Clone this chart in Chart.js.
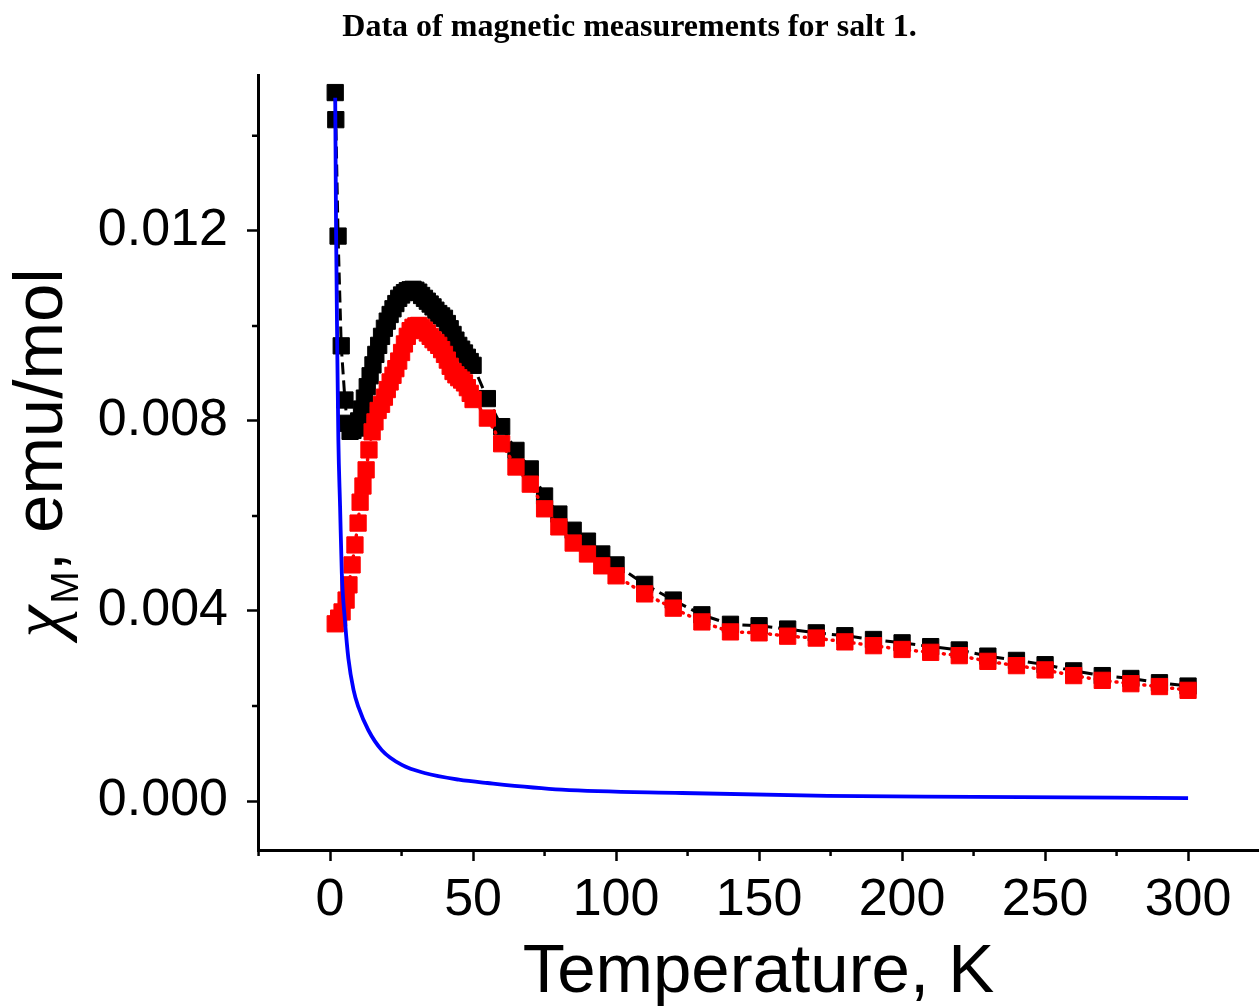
<!DOCTYPE html>
<html>
<head>
<meta charset="utf-8">
<script src="https://cdn.jsdelivr.net/npm/chart.js@4"></script>
<style>
    html, body { margin: 0; padding: 0; background: #fff; }
    #wrap { width: 1259px; height: 1007px; }
</style>
</head>
<body>
<div id="wrap"><canvas id="myChart" width="1259" height="1007"></canvas></div>
<script>
var tempBlack = [1.8, 2.0, 2.8, 3.9, 5.2, 6, 7, 8, 9, 10, 11, 12, 13, 14, 15, 16, 17, 18, 19, 20,
    21, 22, 23, 24, 25, 26, 27, 28, 29, 30, 31, 32, 33, 34, 35, 36, 37, 38, 39, 40,
    41, 42, 43, 44, 45, 46, 47, 48, 49, 50, 55, 60, 65, 70, 75, 80, 85, 90, 95, 100,
    110, 120, 130, 140, 150, 160, 170, 180, 190, 200, 210, 220, 230, 240, 250, 260, 270, 280, 290, 300]
var chiBlack = [0.01491, 0.01434, 0.01189, 0.00958, 0.00844, 0.00795, 0.00778, 0.00780, 0.00785, 0.00800,
    0.00825, 0.00848, 0.00872, 0.00895, 0.00918, 0.00940, 0.00959, 0.00978, 0.00995, 0.01010,
    0.01024, 0.01036, 0.01047, 0.01058, 0.01065, 0.01070, 0.01074, 0.01076, 0.01077, 0.01075,
    0.01071, 0.01064, 0.01058, 0.01052, 0.01046, 0.01040, 0.01033, 0.01026, 0.01021, 0.01016,
    0.01005, 0.00994, 0.00982, 0.00970, 0.00959, 0.00951, 0.00943, 0.00934, 0.00925, 0.00917,
    0.00847, 0.00788, 0.00738, 0.00699, 0.00642, 0.00604, 0.00570, 0.00547, 0.00520, 0.00497,
    0.00456, 0.00423, 0.00392, 0.00372, 0.00369, 0.00362, 0.00354, 0.00348, 0.00340, 0.00333,
    0.00325, 0.00318, 0.00305, 0.00296, 0.00287, 0.00274, 0.00264, 0.00258, 0.00249, 0.00242]

var tempRed = [1.8, 3.0, 4.2, 5.6, 6.6, 7.7, 8.7, 9.8, 10.5, 11.5, 12.6, 13.6, 14.7, 15.7, 16.8,
    18, 19, 20, 21, 22, 23, 24, 25, 26, 27, 28, 29, 30, 31, 32, 33, 34, 35, 36, 37, 38, 39, 40,
    41, 42, 43, 44, 45, 46, 47, 48, 49, 50, 55, 60, 65, 70, 75, 80, 85, 90, 95, 100,
    110, 120, 130, 140, 150, 160, 170, 180, 190, 200, 210, 220, 230, 240, 250, 260, 270, 280, 290, 300]
var chiRed = [0.00373, 0.00385, 0.00398, 0.00423, 0.00455, 0.00497, 0.00539, 0.00585, 0.00629, 0.00663,
    0.00697, 0.00739, 0.00777, 0.00798, 0.00822,
    0.00835, 0.00850, 0.00866, 0.00882, 0.00896, 0.00910, 0.00926, 0.00944, 0.00962, 0.00978,
    0.00990, 0.00997, 0.01000, 0.01001, 0.00997, 0.00991, 0.00985, 0.00978, 0.00971, 0.00965,
    0.00959, 0.00950, 0.00940, 0.00928, 0.00915, 0.00904, 0.00897, 0.00891, 0.00886, 0.00880,
    0.00870, 0.00858, 0.00845, 0.00806, 0.00752, 0.00703, 0.00667, 0.00615, 0.00577, 0.00543,
    0.00520, 0.00495, 0.00474, 0.00436, 0.00406, 0.00377, 0.00356, 0.00354, 0.00347, 0.00343,
    0.00335, 0.00327, 0.00319, 0.00313, 0.00306, 0.00294, 0.00285, 0.00276, 0.00264, 0.00254,
    0.00247, 0.00241, 0.00233]

var tempFit = [1.8, 2.1, 2.5, 2.9, 3.5, 4.1, 5.2, 6.4, 8.2, 9.9, 13.4, 18.1, 25.1, 33, 45, 55,
    81, 123, 174, 225, 300]
var chiFit = [0.0148, 0.0120, 0.0096, 0.0076, 0.0062, 0.0048, 0.0038, 0.0030, 0.00234, 0.00198,
    0.00149, 0.00107, 0.00076, 0.00059, 0.00045, 0.00038, 0.00024, 0.00017, 0.00011, 0.00009, 0.00006]

// every x tick (minor ones included) and the ones that get a label
var xTicks = [-25, 0, 25, 50, 75, 100, 125, 150, 175, 200, 225, 250, 275, 300]
var xTickLabels = [0, 50, 100, 150, 200, 250, 300]
var yTickLabels = ["0.000", "0.004", "0.008", "0.012"]

var axisFont = "Arial, 'Liberation Sans', sans-serif"

function toPoints(xs, ys) {
    return xs.map(function (x, i) { return {x: x, y: ys[i]} })
}

function tickColor(c) {
    return c.tick && c.tick.label !== "" ? "#000" : "rgba(0,0,0,0)"
}

var minorTicks = {
    id: "minorTicks",
    afterDraw: function (chart) {
        var ctx = chart.ctx
        var xs = chart.scales.x
        var ys = chart.scales.y
        ctx.save()
        ctx.strokeStyle = "#000"
        ctx.lineWidth = 2.5
        ctx.beginPath()
        xs.ticks.forEach(function (t) {
            if (t.label !== "") return
            var px = xs.getPixelForValue(t.value)
            ctx.moveTo(px, xs.top)
            ctx.lineTo(px, xs.top + 6)
        })
        ys.ticks.forEach(function (t) {
            if (t.label !== "") return
            var py = ys.getPixelForValue(t.value)
            ctx.moveTo(ys.right, py)
            ctx.lineTo(ys.right - 6, py)
        })
        ctx.stroke()
        ctx.restore()
    }
}

var yTitle = {
    id: "yTitle",
    afterDraw: function (chart) {
        var ctx = chart.ctx
        var area = chart.chartArea
        ctx.save()
        ctx.translate(62, (area.top + area.bottom) / 2 + 175)
        ctx.rotate(-Math.PI / 2)
        ctx.fillStyle = "#000"
        ctx.textAlign = "left"
        ctx.textBaseline = "alphabetic"
        ctx.font = "italic 72px 'Liberation Serif', serif"
        ctx.fillText("\u03C7", 0, 0)
        var pos = ctx.measureText("\u03C7").width + 2
        ctx.font = "39px " + axisFont
        ctx.fillText("M", pos, 16)
        pos += ctx.measureText("M").width
        ctx.font = "69px " + axisFont
        ctx.fillText(", emu/mol", pos, 0)
        ctx.restore()
    }
}

var ctx = document.getElementById("myChart").getContext("2d")

var chart = new Chart(ctx, {
    type: "scatter",
    data: {
        datasets: [{
            label: "fit",
            data: toPoints(tempFit, chiFit),
            showLine: true,
            borderColor: "#0000ff",
            borderWidth: 3.8,
            pointRadius: 0,
            cubicInterpolationMode: "monotone",
            order: 1
        }, {
            label: "FC",
            data: toPoints(tempRed, chiRed),
            showLine: true,
            borderColor: "#ff0000",
            borderWidth: 3.5,
            borderDash: [1, 6],
            borderCapStyle: "round",
            pointStyle: "rect",
            pointRadius: 11.5,
            pointBorderWidth: 1,
            pointBackgroundColor: "#ff0000",
            pointBorderColor: "#ff0000",
            order: 2
        }, {
            label: "ZFC",
            data: toPoints(tempBlack, chiBlack),
            showLine: true,
            borderColor: "#000000",
            borderWidth: 3,
            borderDash: [12, 6],
            pointStyle: "rect",
            pointRadius: 11.5,
            pointBorderWidth: 1,
            pointBackgroundColor: "#000000",
            pointBorderColor: "#000000",
            order: 3
        }]
    },
    options: {
        responsive: false,
        animation: false,
        devicePixelRatio: 1,
        layout: { padding: 0, autoPadding: false },
        plugins: {
            legend: { display: false },
            tooltip: { enabled: false },
            title: {
                display: true,
                text: "Data of magnetic measurements for salt 1.",
                color: "#000",
                font: { family: "'Liberation Serif', 'Times New Roman', serif", size: 32, weight: "bold", lineHeight: 1.2 },
                padding: { top: 9, bottom: 27.6 }
            }
        },
        scales: {
            x: {
                type: "linear",
                min: -25.2,
                max: 324.8,
                border: { color: "#000", width: 3 },
                grid: { drawOnChartArea: false, tickLength: 11, tickWidth: 2.5, tickColor: tickColor },
                afterBuildTicks: function (scale) {
                    scale.ticks = xTicks.map(function (v) { return {value: v} })
                },
                ticks: {
                    autoSkip: false,
                    maxRotation: 0,
                    padding: 8,
                    color: "#000",
                    font: { family: axisFont, size: 52 },
                    callback: function (value) {
                        return xTickLabels.indexOf(value) >= 0 ? String(value) : ""
                    }
                },
                title: {
                    display: true,
                    text: "Temperature, K",
                    color: "#000",
                    font: { family: axisFont, size: 69, lineHeight: 1 },
                    padding: { top: 0, bottom: 0 }
                },
                afterFit: function (scale) { scale.height = 157 }
            },
            y: {
                type: "linear",
                min: -0.00103,
                max: 0.01528,
                border: { color: "#000", width: 3 },
                grid: { drawOnChartArea: false, tickLength: 11, tickWidth: 2.5, tickColor: tickColor },
                ticks: {
                    stepSize: 0.002,
                    includeBounds: false,
                    autoSkip: false,
                    padding: 19,
                    color: "#000",
                    font: { family: axisFont, size: 52 },
                    callback: function (value) {
                        var found = ""
                        yTickLabels.forEach(function (lbl) {
                            if (Math.abs(Number(lbl) - value) < 1e-7) found = lbl
                        })
                        return found
                    }
                },
                afterFit: function (scale) { scale.width = 258 }
            }
        }
    },
    plugins: [minorTicks, yTitle]
})
</script>
</body>
</html>
